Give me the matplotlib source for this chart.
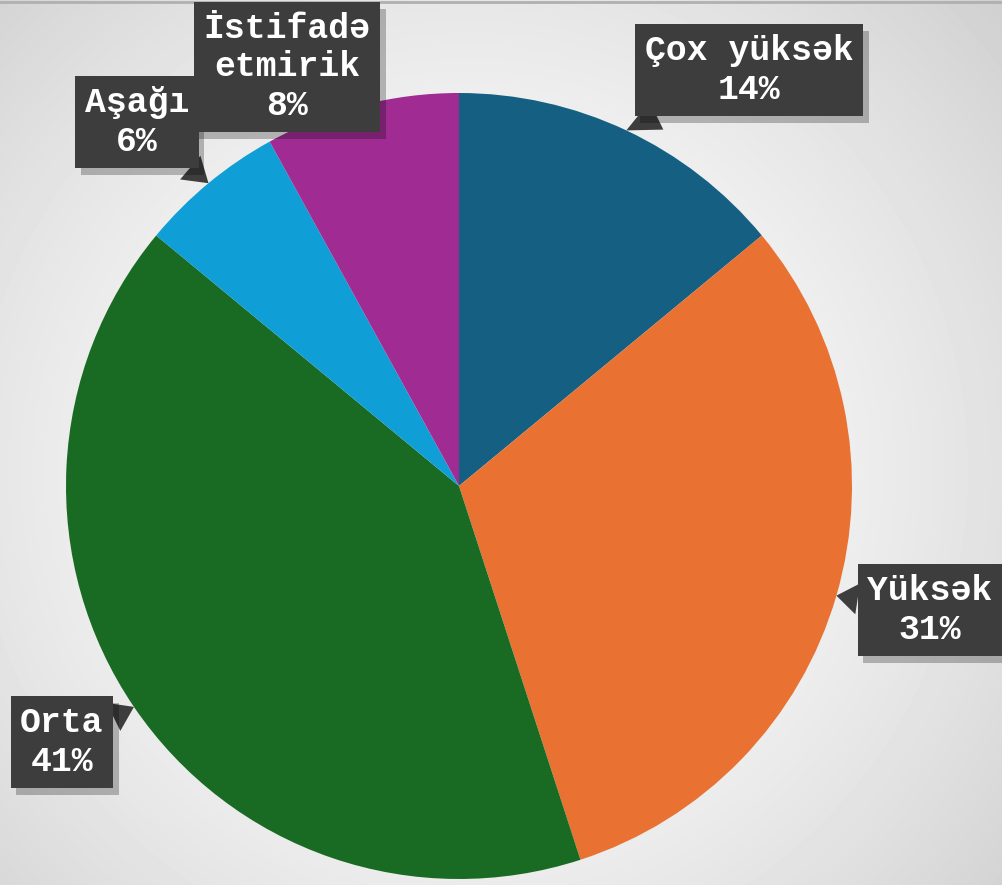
import numpy as np
import matplotlib.pyplot as plt
import matplotlib.patheffects as pe

categories = ["Çox yüksək", "Yüksək", "Orta", "Aşağı", "İstifadə\netmirik"]
values = [14, 31, 41, 6, 8]
colors = ["#156082", "#E97132", "#196B24", "#0F9ED5", "#A02B93"]

W, H = 1002, 885
fig = plt.figure(figsize=(W / 100, H / 100), dpi=100)

# background radial gradient
bg = fig.add_axes([0, 0, 1, 1])
yy, xx = np.mgrid[0:H, 0:W]
d = np.sqrt(((xx - 470) / 620) ** 2 + ((yy - 470) / 620) ** 2)
shade = 1.0 - 0.15 * np.clip(d, 0, 1.2) ** 1.6
bg.imshow(shade, cmap="gray", vmin=0, vmax=1, extent=[0, W, 0, H], aspect="auto")
bg.axhline(H - 1.5, color="#b0b0b0", lw=2)
bg.set_axis_off()

ax = fig.add_axes([0, 0, 1, 1])
ax.patch.set_alpha(0)

cx, cy, r = 459, H - 486, 393
wedges, _ = ax.pie(values, colors=colors, startangle=90, counterclock=False,
                   center=(cx, cy), radius=r, frame=True,
                   wedgeprops=dict(linewidth=0))
ax.set_xlim(0, W)
ax.set_ylim(0, H)
ax.set_axis_off()

# label box centres (pixels from top-left)
label_pos = [(749, 70), (930, 610), (62, 742), (137, 122), (287, 67)]
total = sum(values)
for i, (w, lab, v) in enumerate(zip(wedges, categories, values)):
    ang = np.deg2rad((w.theta1 + w.theta2) / 2)
    px, py = cx + r * np.cos(ang), cy + r * np.sin(ang)
    tx, ty = label_pos[i][0], H - label_pos[i][1]
    txt = f"{lab}\n{round(v / total * 100)}%"
    t = ax.annotate(txt, xy=(px, py), xytext=(tx, ty), ha="center", va="center",
                    family="Liberation Mono", weight="bold", fontsize=25, color="white",
                    linespacing=1.22,
                    bbox=dict(boxstyle="square,pad=0.28", fc="#3d3d3d", ec="none"),
                    arrowprops=dict(arrowstyle="wedge,tail_width=0.9", fc="#3d3d3d",
                                    ec="none", shrinkA=0, shrinkB=0))
    t.get_bbox_patch().set_path_effects(
        [pe.SimplePatchShadow(offset=(4, -5), shadow_rgbFace="black", alpha=0.25), pe.Normal()])

fig.savefig("out.png", dpi=100)
